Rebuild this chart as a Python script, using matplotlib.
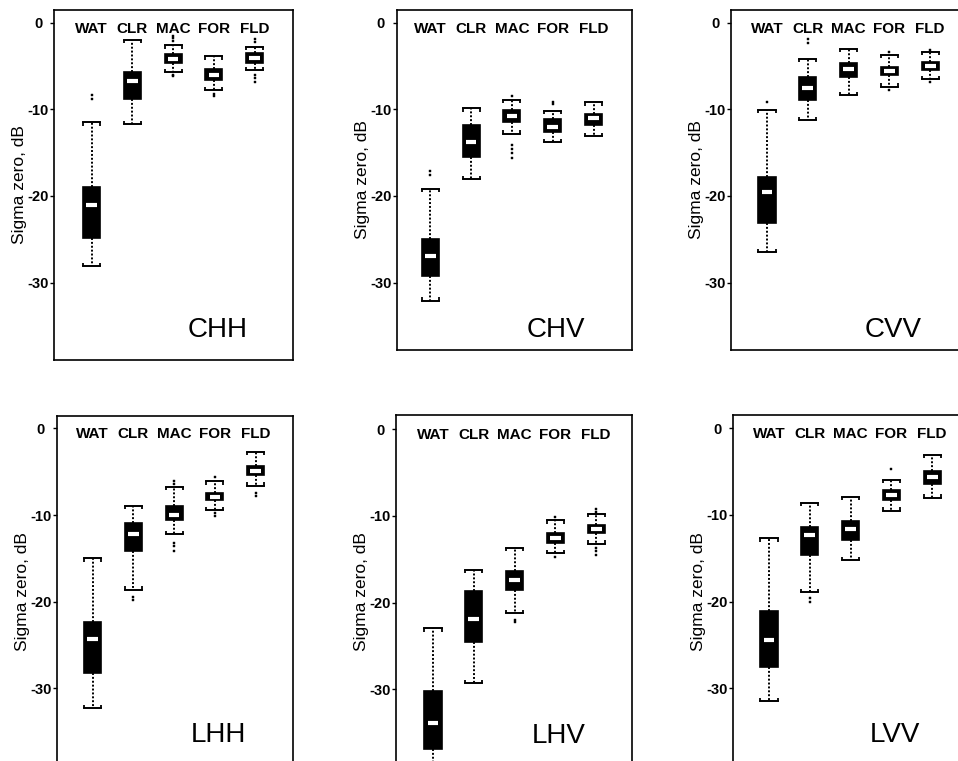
import matplotlib
matplotlib.use("Agg")
import matplotlib.pyplot as plt

plt.rcParams['font.family'] = ['Liberation Sans', 'DejaVu Sans']
plt.rcParams['axes.unicode_minus'] = False

categories = ["WAT", "CLR", "MAC", "FOR", "FLD"]
panel_names = ["CHH", "CHV", "CVV", "LHH", "LHV", "LVV"]
y_ticks = [0, -10, -20, -30]
y_label = "Sigma zero, dB"

# ---- data: per panel, per category (WAT, CLR, MAC, FOR, FLD) ----
chh_whishi = [-11.5, -2.0, -2.6, -3.9, -2.8]
chh_q3 = [-19.0, -5.7, -3.6, -5.4, -3.5]
chh_med = [-21.1, -6.7, -4.2, -6.0, -4.1]
chh_q1 = [-24.9, -8.8, -4.7, -6.6, -4.6]
chh_whislo = [-28.1, -11.7, -5.7, -7.8, -5.5]
chh_fliers = [[-8.4, -8.8], [], [-1.5, -1.8, -2.1, -6.0, -6.2], [-8.2, -8.5],
              [-1.9, -2.2, -6.0, -6.4, -6.8]]

chv_whishi = [-19.15, -9.9, -8.9, -10.2, -9.2]
chv_q3 = [-25.0, -11.8, -10.1, -11.1, -10.5]
chv_med = [-26.9, -13.8, -10.8, -12.0, -11.0]
chv_q1 = [-29.3, -15.5, -11.5, -12.6, -11.8]
chv_whislo = [-32.1, -18.1, -12.8, -13.8, -13.1]
chv_fliers = [[-17.1, -17.6], [], [-8.5, -14.1, -14.6, -15.1, -15.6], [-9.1, -9.4], []]

cvv_whishi = [-10.1, -4.2, -3.0, -3.7, -3.35]
cvv_q3 = [-17.8, -6.3, -4.6, -5.1, -4.5]
cvv_med = [-19.5, -7.5, -5.4, -5.55, -5.0]
cvv_q1 = [-23.1, -8.9, -6.3, -6.05, -5.5]
cvv_whislo = [-26.5, -11.25, -8.4, -7.4, -6.55]
cvv_fliers = [[-9.1], [-1.9, -2.4], [], [-3.4, -7.8], [-3.1, -6.9]]

lhh_whishi = [-15.0, -8.9, -6.7, -6.1, -2.7]
lhh_q3 = [-22.3, -10.9, -9.0, -7.4, -4.3]
lhh_med = [-24.3, -12.2, -10.0, -7.9, -4.9]
lhh_q1 = [-28.2, -14.1, -10.6, -8.3, -5.4]
lhh_whislo = [-32.3, -18.6, -12.2, -9.4, -6.6]
lhh_fliers = [[], [-19.4, -19.8], [-6.1, -6.4, -13.2, -13.6, -14.1], [-5.6, -9.8, -10.1],
              [-7.5, -7.8]]

lhv_whishi = [-23.0, -16.2, -13.7, -10.5, -9.8]
lhv_q3 = [-30.2, -18.7, -16.4, -12.0, -11.0]
lhv_med = [-33.9, -21.9, -17.4, -12.5, -11.5]
lhv_q1 = [-36.9, -24.6, -18.6, -13.1, -12.0]
lhv_whislo = [-41.0, -29.3, -21.2, -14.3, -13.2]
lhv_fliers = [[], [], [-22.0, -22.3], [-10.1, -14.7], [-9.2, -9.5, -13.7, -14.1, -14.5]]

lvv_whishi = [-12.7, -8.6, -7.9, -5.95, -3.1]
lvv_q3 = [-21.1, -11.4, -10.7, -7.1, -4.9]
lvv_med = [-24.4, -12.3, -11.6, -7.7, -5.6]
lvv_q1 = [-27.6, -14.6, -12.9, -8.3, -6.4]
lvv_whislo = [-31.5, -18.95, -15.2, -9.5, -8.0]
lvv_fliers = [[], [-19.6, -20.0], [], [-4.7], []]

panel_data = [
    (chh_whishi, chh_q3, chh_med, chh_q1, chh_whislo, chh_fliers),
    (chv_whishi, chv_q3, chv_med, chv_q1, chv_whislo, chv_fliers),
    (cvv_whishi, cvv_q3, cvv_med, cvv_q1, cvv_whislo, cvv_fliers),
    (lhh_whishi, lhh_q3, lhh_med, lhh_q1, lhh_whislo, lhh_fliers),
    (lhv_whishi, lhv_q3, lhv_med, lhv_q1, lhv_whislo, lhv_fliers),
    (lvv_whishi, lvv_q3, lvv_med, lvv_q1, lvv_whislo, lvv_fliers),
]

# ---- layout (pixels) ----
W, H = 958, 761
PX_PER_DB = 8.66
PX_PER_CAT = 40.8
# x0, x1, top_px, zero_px, ymin, first-category px
layout = [
    (54.0, 293.0, 10.0, 22.7, -38.9, 91.5),
    (396.7, 631.7, 10.0, 22.7, -37.8, 430.3),
    (731.3, 975.0, 10.0, 22.7, -37.75, 767.0),
    (56.7, 293.3, 416.0, 428.5, -39.2, 92.5),
    (396.0, 632.3, 415.0, 429.3, -39.2, 433.0),
    (733.0, 975.0, 415.0, 428.3, -39.2, 769.0),
]

fig = plt.figure(figsize=(W / 100, H / 100), dpi=100)
positions = list(range(1, len(categories) + 1))
bw = 0.42

for (x0, x1, top_px, zero_px, ymin, p1px), name, data in zip(layout, panel_names, panel_data):
    whishi, q3, med, q1, whislo, fliers = data
    ymax = (zero_px - top_px) / PX_PER_DB
    bottom_px = zero_px - ymin * PX_PER_DB
    ax = fig.add_axes([x0 / W, 1 - bottom_px / H, (x1 - x0) / W, (bottom_px - top_px) / H])
    xl = 1 - (p1px - x0) / PX_PER_CAT
    xr = xl + (x1 - x0) / PX_PER_CAT

    stats = []
    for i in range(len(categories)):
        stats.append(dict(med=med[i], q1=q1[i], q3=q3[i], whislo=whislo[i],
                          whishi=whishi[i], fliers=fliers[i], label=categories[i]))
    ax.bxp(stats, positions=positions, widths=bw, capwidths=bw, patch_artist=True,
           showfliers=True,
           boxprops=dict(facecolor='black', edgecolor='black', linewidth=1.2),
           whiskerprops=dict(color='black', linewidth=1.4, linestyle=(0, (1.0, 1.0))),
           capprops=dict(color='black', linewidth=1.4),
           medianprops=dict(linewidth=0),
           flierprops=dict(marker='s', markersize=1.7, markerfacecolor='black',
                           markeredgecolor='black', markeredgewidth=0.3, linestyle='none'))
    # white median bands
    ax.hlines(med, [p - bw * 0.31 for p in positions], [p + bw * 0.31 for p in positions],
              colors='white', linewidth=3.0, zorder=5)
    # bracket ends of caps
    tick = 0.38
    xs = [p + s * bw / 2 for p in positions for s in (-1, 1)]
    ax.vlines(xs, [v for v in whishi for _ in (0, 1)], [v - tick for v in whishi for _ in (0, 1)],
              colors='black', linewidth=1.3)
    ax.vlines(xs, [v for v in whislo for _ in (0, 1)], [v + tick for v in whislo for _ in (0, 1)],
              colors='black', linewidth=1.3)

    for p, c in zip(positions, categories):
        ax.text(p, -1.15, c, ha='center', va='baseline', fontsize=11, fontweight='bold')
    ax.text(4.08, -36.25, name, ha='center', va='baseline', fontsize=20)

    ax.set_xlim(xl, xr)
    ax.set_ylim(ymin, ymax)
    ax.set_xticks([])
    ax.set_yticks(y_ticks)
    ax.set_yticklabels([str(t) for t in y_ticks], fontsize=10.5, fontweight='bold')
    for lab in ax.get_yticklabels():
        lab.set_horizontalalignment('center')
    ax.tick_params(axis='y', direction='out', length=3, width=1.0, pad=8.5)
    for s in ax.spines.values():
        s.set_linewidth(1.2)
    ax.set_ylabel(y_label, fontsize=12.5)
    ax.yaxis.set_label_coords(-27.0 / (x1 - x0), 0.5)

fig.savefig("out.png", dpi=100)
